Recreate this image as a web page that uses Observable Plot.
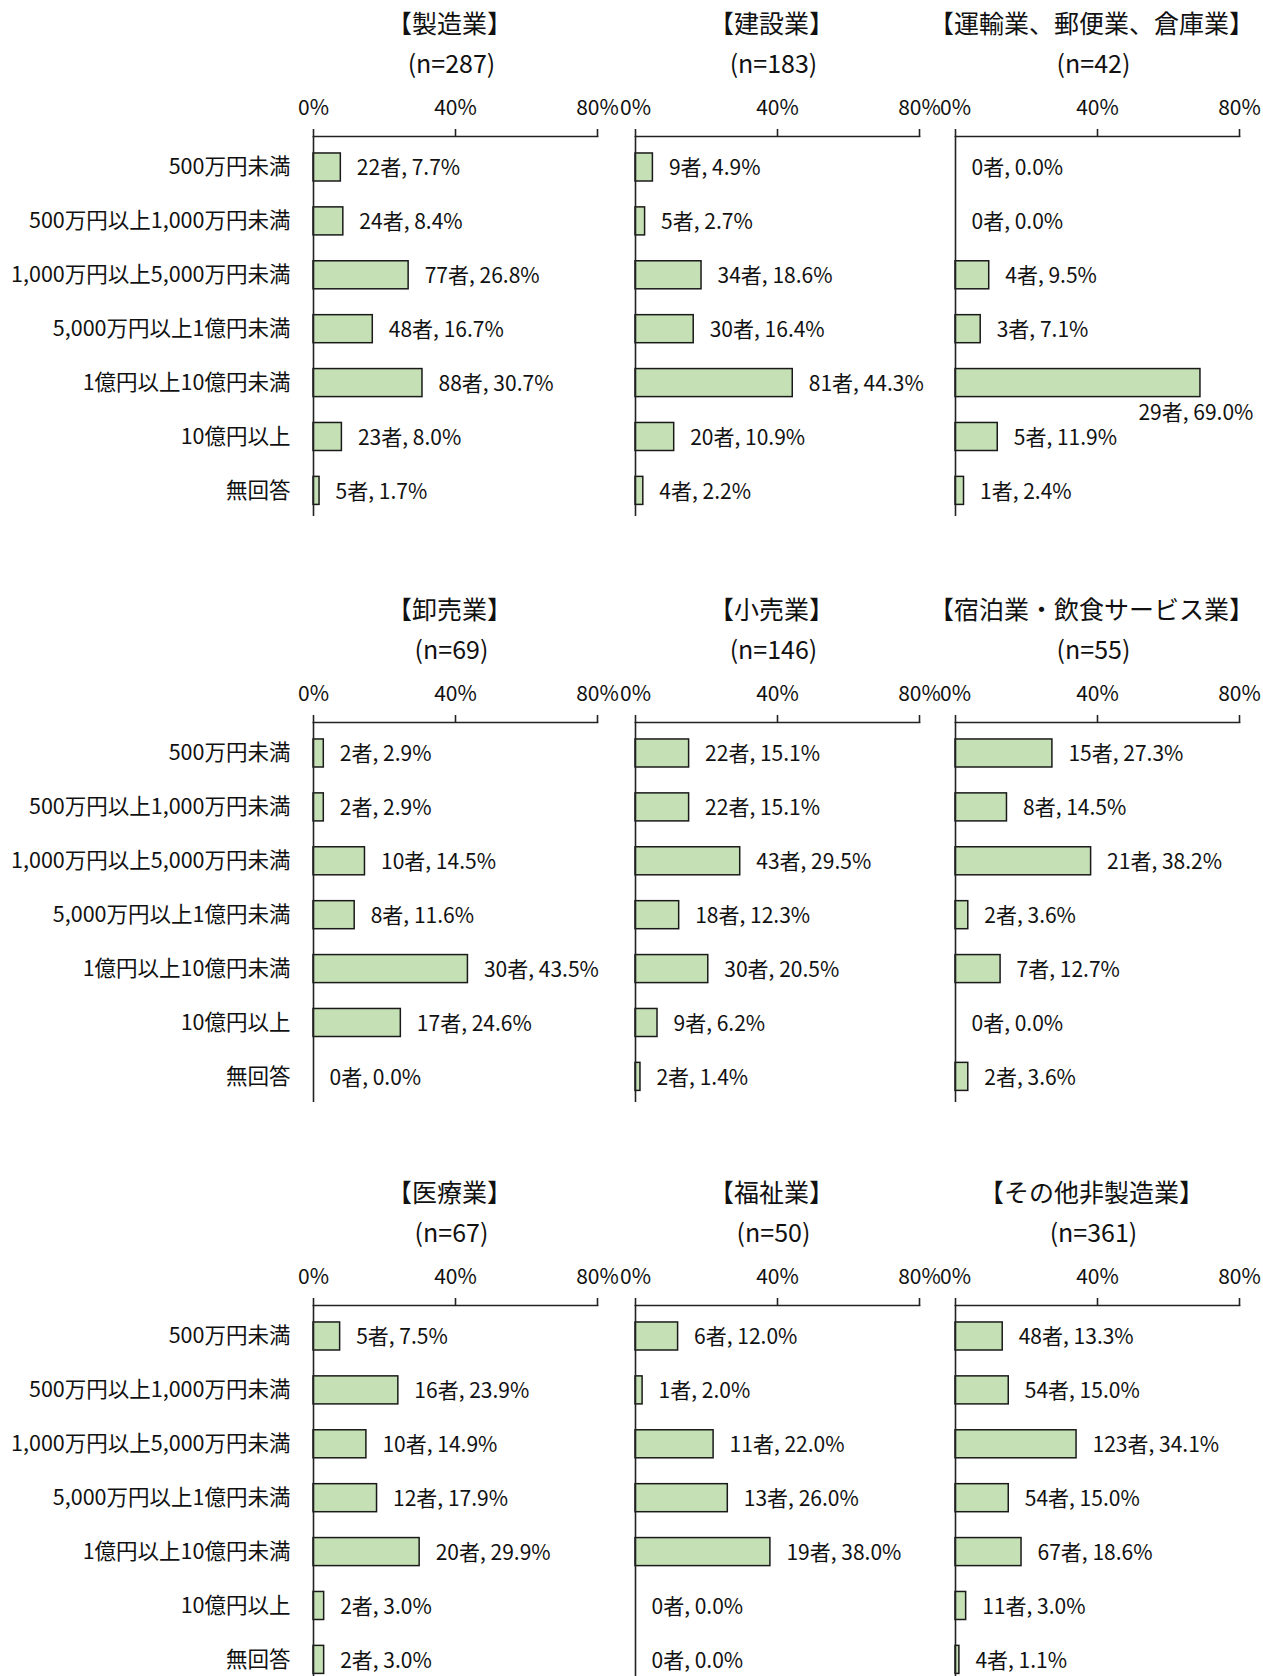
<!DOCTYPE html>
<html>
<head>
<meta charset="utf-8">
<script src="https://cdn.jsdelivr.net/npm/d3@7"></script>
<script src="https://cdn.jsdelivr.net/npm/@observablehq/plot@0.6"></script>
<style>
  html, body { margin: 0; padding: 0; background: #fff; }
  #wrap { position: relative; width: 1263px; height: 1676px; overflow: hidden; background: #fff; }
  #wrap svg { position: absolute; }
</style>
</head>
<body>
<div id="wrap"></div>
<script>
// ---- data ----
const categories = [
  "500万円未満",
  "500万円以上1,000万円未満",
  "1,000万円以上5,000万円未満",
  "5,000万円以上1億円未満",
  "1億円以上10億円未満",
  "10億円以上",
  "無回答"
];
const industries = [
  "【製造業】", "【建設業】", "【運輸業、郵便業、倉庫業】",
  "【卸売業】", "【小売業】", "【宿泊業・飲食サービス業】",
  "【医療業】", "【福祉業】", "【その他非製造業】"
];
const nValues = [287, 183, 42, 69, 146, 55, 67, 50, 361];
const counts = [
  [22, 24, 77, 48, 88, 23, 5],
  [9, 5, 34, 30, 81, 20, 4],
  [0, 0, 4, 3, 29, 5, 1],
  [2, 2, 10, 8, 30, 17, 0],
  [22, 22, 43, 18, 30, 9, 2],
  [15, 8, 21, 2, 7, 0, 2],
  [5, 16, 10, 12, 20, 2, 2],
  [6, 1, 11, 13, 19, 0, 0],
  [48, 54, 123, 54, 67, 11, 4]
];
const percents = [
  [7.7, 8.4, 26.8, 16.7, 30.7, 8.0, 1.7],
  [4.9, 2.7, 18.6, 16.4, 44.3, 10.9, 2.2],
  [0.0, 0.0, 9.5, 7.1, 69.0, 11.9, 2.4],
  [2.9, 2.9, 14.5, 11.6, 43.5, 24.6, 0.0],
  [15.1, 15.1, 29.5, 12.3, 20.5, 6.2, 1.4],
  [27.3, 14.5, 38.2, 3.6, 12.7, 0.0, 3.6],
  [7.5, 23.9, 14.9, 17.9, 29.9, 3.0, 3.0],
  [12.0, 2.0, 22.0, 26.0, 38.0, 0.0, 0.0],
  [13.3, 15.0, 34.1, 15.0, 18.6, 3.0, 1.1]
];
const xTicks = [0, 40, 80];

// ---- layout ----
const FONT = "'Noto Sans CJK JP', 'Noto Sans', sans-serif";
const rowTop = [0, 586, 1169];
const colZero = [313, 635, 955];
const plotW = 284;
const mTop = 136, mBottom = 68, panelH = 584;
const TEXT = "#111", LINE = "#222";

const wrap = document.getElementById("wrap");

industries.forEach((name, i) => {
  const r = Math.floor(i / 3), c = i % 3;
  const data = categories.map((cat, k) => ({cat, count: counts[i][k], pct: percents[i][k]}));
  const mLeft = c === 0 ? colZero[0] : 20;
  const mRight = 60;
  const chart = Plot.plot({
    width: mLeft + plotW + mRight,
    height: panelH,
    marginTop: mTop,
    marginBottom: mBottom,
    marginLeft: mLeft,
    marginRight: mRight,
    style: {background: "transparent", overflow: "visible", fontFamily: FONT, color: TEXT},
    x: {domain: [0, 80], label: null},
    y: {domain: categories, label: null, paddingInner: 0.48, paddingOuter: 0.265, align: 0.594, round: false},
    marks: [
      Plot.barX(data.filter(d => d.pct > 0), {
        x: "pct", y: "cat", fill: "#C5E0B4", stroke: "#1a1a1a", strokeWidth: 1.5
      }),
      Plot.ruleX([0], {stroke: LINE, strokeWidth: 1.6}),
      Plot.frame({anchor: "top", stroke: LINE, strokeWidth: 1.6}),
      Plot.axisX({
        anchor: "top", ticks: xTicks, tickSize: 8, tickPadding: 14, label: null,
        tickFormat: d => d + "%", fontSize: 21, stroke: LINE, strokeWidth: 1.6, fill: TEXT
      }),
      c === 0
        ? Plot.axisY({anchor: "left", tickSize: 0, tickPadding: 23, fontSize: 21.5, fill: TEXT, label: null})
        : Plot.axisY({anchor: "left", ticks: [], label: null}),
      Plot.text(data.filter(d => d.pct <= 60), {
        x: "pct", y: "cat", text: d => `${d.count}者, ${d.pct.toFixed(1)}%`,
        textAnchor: "start", dx: 16, dy: 1, fontSize: 21, fill: TEXT
      }),
      Plot.text(data.filter(d => d.pct > 60), {
        x: "pct", y: "cat", text: d => `${d.count}者, ${d.pct.toFixed(1)}%`,
        textAnchor: "end", dx: 53, dy: 30, fontSize: 21, fill: TEXT
      }),
      Plot.text([name], {frameAnchor: "top", dy: -112, dx: -6, fontSize: 25, fill: TEXT, lineAnchor: "middle"}),
      Plot.text([`(n=${nValues[i]})`], {frameAnchor: "top", dy: -72, dx: -4, fontSize: 25, fill: TEXT, lineAnchor: "middle"})
    ]
  });
  chart.style.left = (colZero[c] - mLeft) + "px";
  chart.style.top = rowTop[r] + "px";
  wrap.appendChild(chart);
});
</script>
</body>
</html>
